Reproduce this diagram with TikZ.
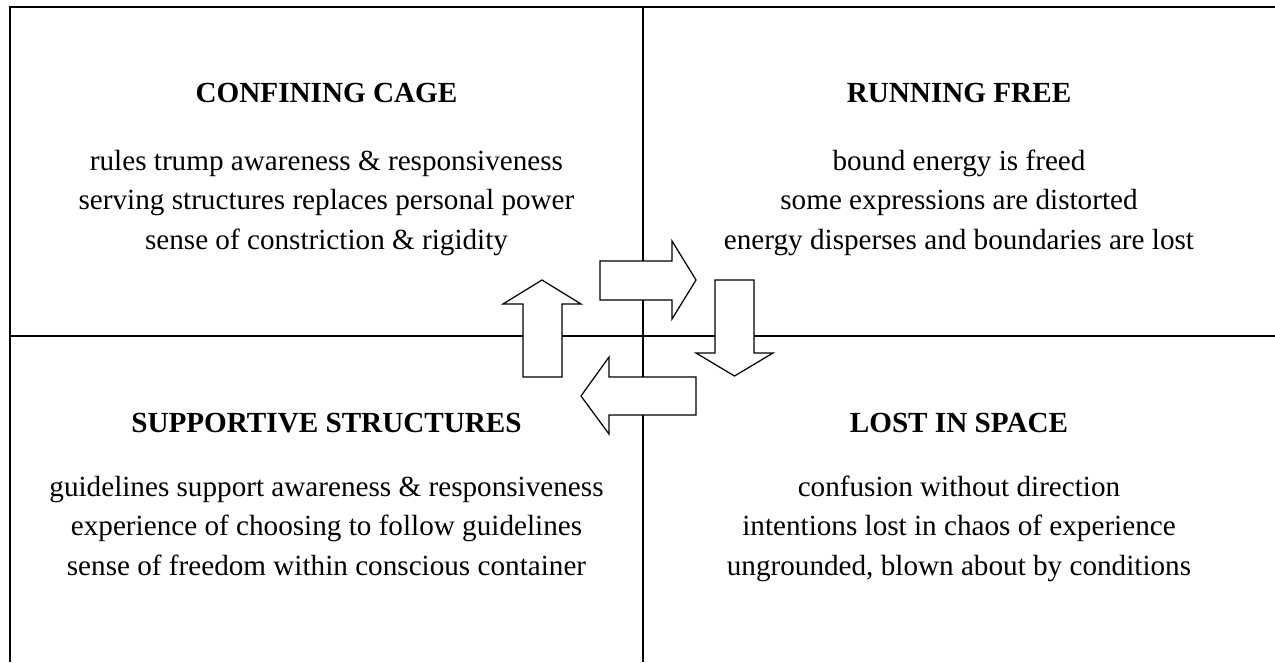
\documentclass[tikz,border=0pt]{standalone}
\usepackage{fontspec}
\setmainfont{Liberation Serif}
\usetikzlibrary{positioning}

\begin{document}
\begin{tikzpicture}[
    x=1cm,
    y=1cm,
    font=\fontsize{16.6pt}{22.2pt}\selectfont,
    frame/.style={draw=black, line width=1.15pt},
    divider/.style={draw=black, line width=1.0pt},
    blockarrow/.style={draw=black, fill=white, line width=0.7pt, line join=miter},
    quadhead/.style={font=\fontsize{16.6pt}{22.2pt}\selectfont\bfseries, anchor=base, inner sep=0pt},
    quadtext/.style={align=center, anchor=base, inner sep=0pt}
]
\useasboundingbox (0,0) rectangle (25.5,13.24);

% Outer frame (left and top) and the cross dividing the quadrants.
\draw[frame] (0.2,0) -- (0.2,13.1) -- (25.5,13.1);
\draw[divider] (12.86,0) -- (12.86,13.1);
\draw[divider] (0.2,6.52) -- (25.5,6.52);

% Quadrant headings.
\node[quadhead] (cagehead) at (6.53,11.18) {CONFINING CAGE};
\node[quadhead] (freehead) at (19.18,11.18) {RUNNING FREE};
\node[quadhead] (supporthead) at (6.53,4.60) {SUPPORTIVE STRUCTURES};
\node[quadhead] (losthead) at (19.18,4.60) {LOST IN SPACE};

% Quadrant descriptions (base sits on the last line).
\node[quadtext] (cagetext) at (6.53,8.26) {%
    rules trump awareness \& responsiveness\\
    serving structures replaces personal power\\
    sense of constriction \& rigidity
};
\node[quadtext] (freetext) at (19.18,8.26) {%
    bound energy is freed\\
    some expressions are distorted\\
    energy disperses and boundaries are lost
};
\node[quadtext] (supporttext) at (6.53,1.74) {%
    guidelines support awareness \& responsiveness\\
    experience of choosing to follow guidelines\\
    sense of freedom within conscious container
};
\node[quadtext] (losttext) at (19.18,1.74) {%
    confusion without direction\\
    intentions lost in chaos of experience\\
    ungrounded, blown about by conditions
};

% The cycle of block arrows round the centre.
\draw[blockarrow] (12.00,8.02) -- (13.44,8.02) -- (13.44,8.42) -- (13.92,7.64)
    -- (13.44,6.86) -- (13.44,7.24) -- (12.00,7.24) -- cycle;
\draw[blockarrow] (14.30,7.64) -- (15.08,7.64) -- (15.08,6.18) -- (15.46,6.18)
    -- (14.69,5.72) -- (13.92,6.18) -- (14.30,6.18) -- cycle;
\draw[blockarrow] (13.92,5.70) -- (12.18,5.70) -- (12.18,6.10) -- (11.62,5.32)
    -- (12.18,4.56) -- (12.18,4.94) -- (13.92,4.94) -- cycle;
\draw[blockarrow] (10.46,5.70) -- (10.46,7.16) -- (10.06,7.16) -- (10.84,7.64)
    -- (11.62,7.16) -- (11.24,7.16) -- (11.24,5.70) -- cycle;

\end{tikzpicture}
\end{document}
